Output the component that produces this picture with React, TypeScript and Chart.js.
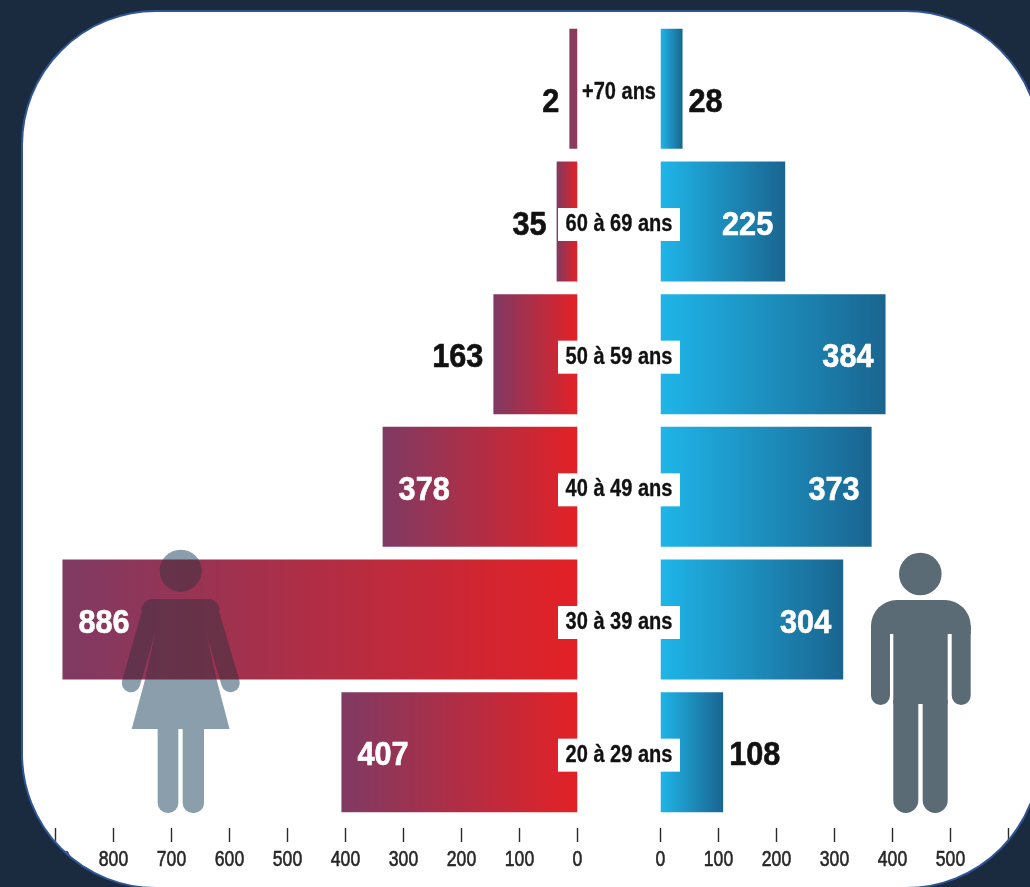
import React, { useEffect, useRef } from "react";
import { Chart, registerables } from "chart.js";

Chart.register(...registerables);

const ageGroups = ["+70 ans", "60 à 69 ans", "50 à 59 ans", "40 à 49 ans", "30 à 39 ans", "20 à 29 ans"];
// Bar lengths as drawn in the picture (read against the axes)
const womenBars = [14, 36, 145, 336, 888, 407];
const menBars = [38, 215, 388, 364, 315, 108];
// Printed figures
const womenLabels = [2, 35, 163, 378, 886, 407];
const menLabels = [28, 225, 384, 373, 304, 108];
const womenInside = [false, false, false, true, true, true];
const menInside = [false, true, true, true, true, false];
const axisStep = 100;
const womenAxisMax = 900;
const menAxisMax = 600;

const W = 1030;
const H = 887;
const FONT = '"Liberation Sans", Arial, sans-serif';

function barGradient(ctx: any, from: string, to: string, thin: string) {
  const chart = ctx.chart;
  if (ctx.parsed === undefined || !chart.scales.x) return from;
  const a = chart.scales.x.getPixelForValue(0);
  const b = chart.scales.x.getPixelForValue(ctx.parsed.x);
  if (!Number.isFinite(a) || !Number.isFinite(b)) return from;
  const left = Math.min(a, b);
  const right = Math.max(a, b);
  if (right - left < 12) return thin;
  const g = chart.ctx.createLinearGradient(left, 0, right, 0);
  g.addColorStop(0, from);
  g.addColorStop(1, to);
  return g;
}

// Draw text squeezed horizontally, as the original uses a condensed face.
function squeezed(ctx: any, text: string, x: number, y: number, sx: number, stroke: number) {
  ctx.save();
  ctx.translate(x, y);
  ctx.scale(sx, 1);
  if (stroke > 0) {
    ctx.lineWidth = stroke;
    ctx.strokeStyle = ctx.fillStyle;
    ctx.lineJoin = "round";
    ctx.strokeText(text, 0, 0);
  }
  ctx.fillText(text, 0, 0);
  ctx.restore();
}

function drawAxis(chart: any) {
  const { ctx, scales } = chart;
  ctx.save();
  ctx.strokeStyle = "#2a2a2a";
  ctx.fillStyle = "#262626";
  ctx.lineWidth = 1.4;
  ctx.font = `22px ${FONT}`;
  ctx.textAlign = "center";
  ctx.textBaseline = "middle";
  scales.x.ticks.forEach((t: any) => {
    const x = scales.x.getPixelForValue(t.value);
    ctx.beginPath();
    ctx.moveTo(x, 828);
    ctx.lineTo(x, 842);
    ctx.stroke();
    squeezed(ctx, String(t.value), x, 860, 0.8, 0.6);
  });
  ctx.restore();
}

function drawValues(chart: any, labels: number[], inside: boolean[], side: "women" | "men") {
  const { ctx, scales } = chart;
  const bars = chart.getDatasetMeta(0).data;
  ctx.save();
  ctx.font = `bold 33px ${FONT}`;
  ctx.textBaseline = "middle";
  labels.forEach((v, i) => {
    const end = bars[i].x;
    const y = scales.y.getPixelForValue(i) + (i === 0 ? 14 : 4);
    let x: number;
    if (side === "women") {
      ctx.textAlign = inside[i] ? "left" : "right";
      x = inside[i] ? end + 16 : end - 10;
    } else {
      ctx.textAlign = inside[i] ? "right" : "left";
      x = inside[i] ? end - 12 : end + 6;
    }
    ctx.fillStyle = inside[i] ? "#ffffff" : "#111111";
    squeezed(ctx, String(v), x, y, 0.93, 0.6);
  });
  ctx.restore();
}

function womanSilhouette(color: string) {
  const off = document.createElement("canvas");
  off.width = W;
  off.height = H;
  const c = off.getContext("2d")!;
  c.fillStyle = color;
  c.beginPath();
  c.arc(180.7, 570.7, 21, 0, Math.PI * 2);
  c.fill();
  // torso and skirt
  c.beginPath();
  c.moveTo(150, 599);
  c.lineTo(211, 599);
  c.lineTo(206, 632);
  c.lineTo(216.7, 680);
  c.lineTo(229.5, 729);
  c.lineTo(131.7, 729);
  c.lineTo(145, 680);
  c.lineTo(155.5, 632);
  c.closePath();
  c.fill();
  // shoulders
  c.beginPath();
  c.moveTo(150, 599);
  c.lineTo(211, 599);
  c.quadraticCurveTo(217, 601, 220, 609);
  c.lineTo(207, 630);
  c.lineTo(154, 630);
  c.lineTo(141, 609);
  c.quadraticCurveTo(144, 601, 150, 599);
  c.fill();
  // arms
  c.strokeStyle = color;
  c.lineWidth = 18.5;
  c.lineCap = "round";
  c.beginPath();
  c.moveTo(152, 610);
  c.lineTo(131, 683);
  c.moveTo(209, 610);
  c.lineTo(230.5, 683);
  c.stroke();
  // legs
  c.beginPath();
  c.roundRect(157.7, 725, 20.6, 88, [0, 0, 10, 10]);
  c.roundRect(182.7, 725, 21.3, 88, [0, 0, 10, 10]);
  c.fill();
  return off;
}

function drawWoman(chart: any) {
  const { ctx } = chart;
  ctx.save();
  ctx.globalCompositeOperation = "multiply";
  ctx.drawImage(womanSilhouette("rgb(114,171,184)"), 0, 0);
  ctx.globalCompositeOperation = "source-over";
  ctx.globalAlpha = 0.2;
  ctx.drawImage(womanSilhouette("rgb(240,110,120)"), 0, 0);
  ctx.restore();
}

function drawMan(chart: any) {
  const { ctx } = chart;
  ctx.save();
  ctx.fillStyle = "#5a6b76";
  ctx.beginPath();
  ctx.arc(920.3, 574, 21.3, 0, Math.PI * 2);
  ctx.fill();
  ctx.beginPath();
  ctx.roundRect(871, 600, 99.7, 34, [26, 26, 0, 0]);
  ctx.fill();
  ctx.beginPath();
  ctx.roundRect(871, 625, 19, 80, [0, 0, 9.5, 9.5]);
  ctx.roundRect(951.7, 625, 19, 80, [0, 0, 9.5, 9.5]);
  ctx.fill();
  ctx.fillRect(893.3, 610, 54.4, 94);
  ctx.beginPath();
  ctx.roundRect(893.3, 700, 25, 113, [0, 0, 12.5, 12.5]);
  ctx.roundRect(922.7, 700, 25, 113, [0, 0, 12.5, 12.5]);
  ctx.fill();
  ctx.restore();
}

function drawAgeBoxes(chart: any) {
  const { ctx, scales } = chart;
  const cx = 619;
  ctx.save();
  ctx.textAlign = "center";
  ctx.textBaseline = "middle";
  ctx.font = `bold 23px ${FONT}`;
  ageGroups.forEach((label, i) => {
    const y = scales.y.getPixelForValue(i) + (i === 0 ? 4 : 3);
    if (i > 0) {
      ctx.fillStyle = "#ffffff";
      ctx.fillRect(558, y - 16.5, 122, 33);
    }
    ctx.fillStyle = "#111111";
    squeezed(ctx, label, cx, y, 0.87, 0.3);
  });
  ctx.restore();
}

function makeChart(
  canvas: HTMLCanvasElement,
  data: number[],
  from: string,
  to: string,
  thin: string,
  max: number,
  reverse: boolean,
  padLeft: number,
  padRight: number,
  after: (chart: any) => void
) {
  return new Chart(canvas, {
    type: "bar",
    data: {
      labels: ageGroups,
      datasets: [
        {
          data,
          backgroundColor: (ctx: any) => barGradient(ctx, from, to, thin),
          borderWidth: 0,
          barPercentage: 1,
          categoryPercentage: 0.905,
        },
      ],
    },
    options: {
      indexAxis: "y",
      animation: false,
      responsive: false,
      maintainAspectRatio: false,
      layout: { padding: { left: padLeft, right: padRight, top: 22.5, bottom: 18.5 } },
      plugins: { legend: { display: false }, tooltip: { enabled: false }, title: { display: false } },
      scales: {
        x: {
          min: 0,
          max,
          reverse,
          afterFit: (s: any) => {
            s.height = 50;
            s.paddingLeft = 0;
            s.paddingRight = 0;
          },
          grid: { display: false },
          border: { display: false },
          ticks: { stepSize: axisStep, autoSkip: false, maxRotation: 0, minRotation: 0, display: false },
        },
        y: { display: false },
      },
    },
    plugins: [{ id: "decor", afterDraw: after }],
  } as any);
}

export default function App() {
  const womenRef = useRef<HTMLCanvasElement>(null);
  const menRef = useRef<HTMLCanvasElement>(null);

  useEffect(() => {
    const women = makeChart(womenRef.current!, womenBars, "#7f3a63", "#e32126", "#8b3a5c", womenAxisMax, true, 55.5, 452.5, (chart) => {
      drawAxis(chart);
      drawWoman(chart);
      drawValues(chart, womenLabels, womenInside, "women");
    });
    const men = makeChart(menRef.current!, menBars, "#1fb5e8", "#1a6590", "#1a7fae", menAxisMax, false, 660.5, 21.5, (chart) => {
      drawAxis(chart);
      drawMan(chart);
      drawValues(chart, menLabels, menInside, "men");
      drawAgeBoxes(chart);
    });
    return () => {
      women.destroy();
      men.destroy();
    };
  }, []);

  const canvasStyle: React.CSSProperties = { position: "absolute", left: -23, top: -12, width: W, height: H, display: "block" };
  return (
    <div style={{ position: "absolute", left: 0, top: 0, width: W, height: H, overflow: "hidden", background: "#1b2b3f" }}>
      <div
        style={{
          position: "absolute",
          left: 21,
          top: 10,
          width: 1020,
          height: 879,
          boxSizing: "border-box",
          border: "2px solid #2f5597",
          borderRadius: 135,
          background: "#ffffff",
          overflow: "hidden",
        }}
      >
        <canvas ref={womenRef} width={W} height={H} style={canvasStyle} />
        <canvas ref={menRef} width={W} height={H} style={canvasStyle} />
      </div>
    </div>
  );
}
